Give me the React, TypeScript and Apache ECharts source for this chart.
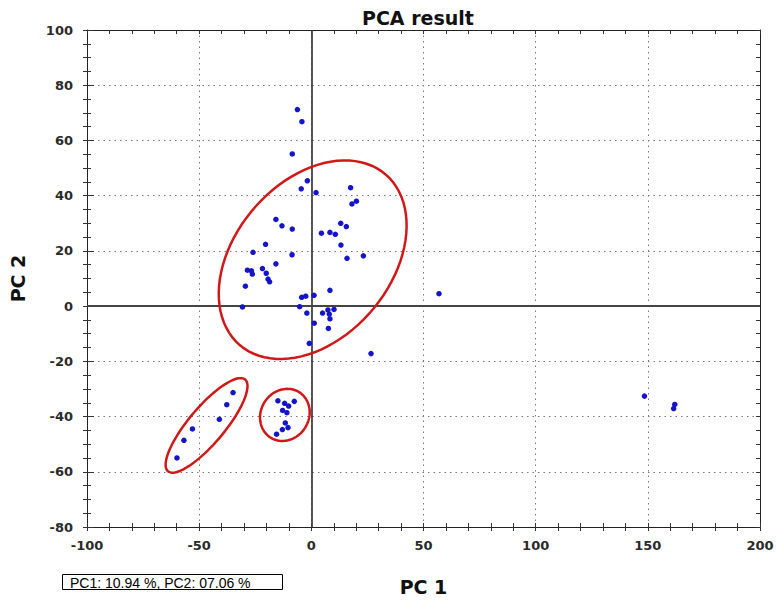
import React, { useEffect, useRef } from "react";
import * as echarts from "echarts";

const TITLE = "PCA result";
const X_NAME = "PC 1";
const Y_NAME = "PC 2";
const VARIANCE_NOTE = "PC1: 10.94 %, PC2: 07.06 %";

const X_MIN = -100;
const X_MAX = 200;
const X_STEP = 50;
const Y_MIN = -80;
const Y_MAX = 100;
const Y_STEP = 20;

// Samples in the main group
const mainGroup: number[][] = [
  [-6.2, 71.2], [-4.2, 66.8], [-8.5, 55.1], [-1.8, 45.4], [-4.5, 42.5], [2.1, 41.1],
  [17.5, 42.9], [20.1, 38.0], [18.1, 37.0], [-15.8, 31.4], [-13.1, 29.1], [-8.5, 27.9],
  [13.1, 30.0], [15.6, 28.8], [4.5, 26.4], [8.3, 26.7], [10.7, 26.0], [13.2, 22.1],
  [-20.4, 22.4], [-26.0, 19.5], [-8.6, 18.6], [23.2, 18.2], [15.9, 17.3], [-15.8, 15.3],
  [-28.5, 13.0], [-26.7, 12.8], [-26.3, 11.6], [-21.8, 13.6], [-20.1, 11.9], [-19.3, 9.8],
  [-18.6, 8.8], [-29.4, 7.2], [-30.7, -0.3], [-4.3, 3.2], [-2.5, 3.6], [1.2, 3.9],
  [8.3, 5.7], [-5.2, -0.2], [-2.0, -2.5], [5.0, -2.5], [7.4, -1.4], [10.1, -1.2],
  [8.0, -2.9], [8.3, -4.6], [1.3, -6.2], [7.6, -8.1], [-0.9, -13.5],
];
// Outlying samples
const outliers: number[][] = [
  [26.6, -17.2], [56.9, 4.5], [148.5, -32.6], [162.0, -35.6], [161.5, -37.1],
];
// Lower-left diagonal group
const leftGroup: number[][] = [
  [-34.9, -31.3], [-37.7, -35.7], [-41.0, -41.0], [-53.0, -44.5], [-56.8, -48.6], [-59.9, -55.0],
];
// Small lower group
const lowerGroup: number[][] = [
  [-14.9, -34.3], [-11.9, -35.2], [-10.1, -36.2], [-7.6, -34.5], [-12.8, -37.8],
  [-10.9, -38.6], [-11.6, -42.3], [-10.4, -44.0], [-12.9, -44.7], [-15.5, -46.4],
];
// Group ellipses in data units: [centerX, centerY, axis1X, axis1Y, axis2X, axis2Y]
const ellipses: number[][] = [
  [0.6, 16.8, 32.5, 30.9, -26.4, 18.4],
  [-46.7, -43.2, 17.2, 16.6, -6.1, 4.2],
  [-11.8, -39.4, 6.0, 8.4, -9.3, 4.3],
];

const LABEL_FONT = "'DejaVu Sans', Verdana, sans-serif";
const NOTE_FONT = "'Liberation Sans', Arial, sans-serif";

export default function App() {
  const ref = useRef<HTMLDivElement>(null);
  useEffect(() => {
    if (!ref.current) return;
    const chart = echarts.init(ref.current, undefined, { renderer: "svg" });
    const axisLine = { show: true, onZero: false, lineStyle: { color: "#222", width: 1 } };
    const baseX = { type: "value" as const, min: X_MIN, max: X_MAX, interval: X_STEP, gridIndex: 0 };
    const baseY = { type: "value" as const, min: Y_MIN, max: Y_MAX, interval: Y_STEP, gridIndex: 0 };
    const tickStyle = { color: "#333", width: 1 };
    const hidden = { show: false };
    const pts = [...mainGroup, ...outliers, ...leftGroup, ...lowerGroup];
    const labelStyle = { fontFamily: LABEL_FONT, fontSize: 13, fontWeight: "bold", color: "#2a2a2a" };
    const nameStyle = { fontFamily: LABEL_FONT, fontSize: 19, fontWeight: "bold", color: "#111" };

    chart.setOption({
      animation: false,
      backgroundColor: "#fff",
      title: {
        text: TITLE,
        left: 357,
        top: 3,
        textStyle: { fontFamily: LABEL_FONT, fontSize: 19, fontWeight: "bold", color: "#111" },
      },
      grid: { left: 87, right: 17, top: 30, bottom: 71, containLabel: false },
      xAxis: [
        {
          ...baseX,
          position: "bottom",
          name: X_NAME,
          nameLocation: "middle",
          nameGap: 50,
          nameTextStyle: nameStyle,
          axisLine,
          axisTick: { show: true, inside: false, length: 4, lineStyle: tickStyle },
          minorTick: { show: true, splitNumber: 5, length: 4, lineStyle: tickStyle },
          axisLabel: { margin: 12, ...labelStyle },
          splitLine: { show: true, lineStyle: { type: [1.5, 4], color: "#777", width: 1 } },
        },
        {
          ...baseX,
          position: "bottom",
          axisLine: { ...axisLine, show: false },
          axisTick: { show: true, inside: true, length: 4, lineStyle: tickStyle },
          minorTick: { show: true, splitNumber: 5, length: 4, lineStyle: tickStyle },
          axisLabel: hidden,
          splitLine: hidden,
        },
        {
          ...baseX,
          position: "top",
          axisLine,
          axisTick: { show: true, inside: true, length: 4, lineStyle: tickStyle },
          minorTick: { show: true, splitNumber: 5, length: 4, lineStyle: tickStyle },
          axisLabel: hidden,
          splitLine: hidden,
        },
      ],
      yAxis: [
        {
          ...baseY,
          position: "left",
          name: Y_NAME,
          nameLocation: "middle",
          nameGap: 60,
          nameRotate: 90,
          nameTextStyle: nameStyle,
          axisLine,
          axisTick: { show: true, inside: false, length: 4, lineStyle: tickStyle },
          minorTick: { show: true, splitNumber: 4, length: 4, lineStyle: tickStyle },
          axisLabel: { margin: 14, ...labelStyle },
          splitLine: { show: true, lineStyle: { type: [1.5, 4], color: "#777", width: 1 } },
        },
        {
          ...baseY,
          position: "left",
          axisLine: { ...axisLine, show: false },
          axisTick: { show: true, inside: true, length: 7, lineStyle: tickStyle },
          minorTick: { show: true, splitNumber: 4, length: 4, lineStyle: tickStyle },
          axisLabel: hidden,
          splitLine: hidden,
        },
        {
          ...baseY,
          position: "right",
          axisLine,
          axisTick: { show: true, inside: true, length: 4, lineStyle: tickStyle },
          minorTick: { show: true, splitNumber: 4, length: 4, lineStyle: tickStyle },
          axisLabel: hidden,
          splitLine: hidden,
        },
      ],
      graphic: [
        {
          type: "group",
          left: 62,
          top: 574,
          children: [
            {
              type: "rect",
              shape: { x: 0.5, y: 0.5, width: 220, height: 15 },
              style: { fill: "#fff", stroke: "#000", lineWidth: 1 },
            },
            {
              type: "text",
              x: 8,
              y: 8.5,
              style: {
                text: VARIANCE_NOTE,
                fontFamily: NOTE_FONT,
                fontSize: 14,
                fill: "#000",
                verticalAlign: "middle",
                textAlign: "left",
              },
            },
          ],
        },
      ],
      series: [
        {
          type: "scatter",
          xAxisIndex: 0,
          yAxisIndex: 0,
          data: pts,
          symbolSize: 5.5,
          itemStyle: { color: "#1414c8", opacity: 1 },
          z: 5,
          markLine: {
            silent: true,
            symbol: "none",
            label: { show: false },
            lineStyle: { type: "solid", color: "#444", width: 1.8 },
            data: [{ xAxis: 0 }, { yAxis: 0 }],
            z: 2,
          },
        },
        {
          type: "custom",
          xAxisIndex: 0,
          yAxisIndex: 0,
          data: ellipses,
          encode: { x: 0, y: 1 },
          clip: false,
          z: 4,
          renderItem: (params: any, api: any) => {
            const cx = api.value(0);
            const cy = api.value(1);
            const ux = api.value(2);
            const uy = api.value(3);
            const vx = api.value(4);
            const vy = api.value(5);
            const points: number[][] = [];
            const n = 90;
            for (let i = 0; i < n; i++) {
              const t = (i / n) * Math.PI * 2;
              const c = Math.cos(t);
              const s = Math.sin(t);
              points.push(api.coord([cx + c * ux + s * vx, cy + c * uy + s * vy]));
            }
            return {
              type: "polygon",
              shape: { points },
              style: { fill: "none", stroke: "#d01818", lineWidth: 2.5 },
            };
          },
        },
      ],
    });
    return () => chart.dispose();
  }, []);
  return (
    <div
      ref={ref}
      style={{ position: "fixed", left: 0, top: 0, width: 777, height: 601, background: "#fff" }}
    />
  );
}
